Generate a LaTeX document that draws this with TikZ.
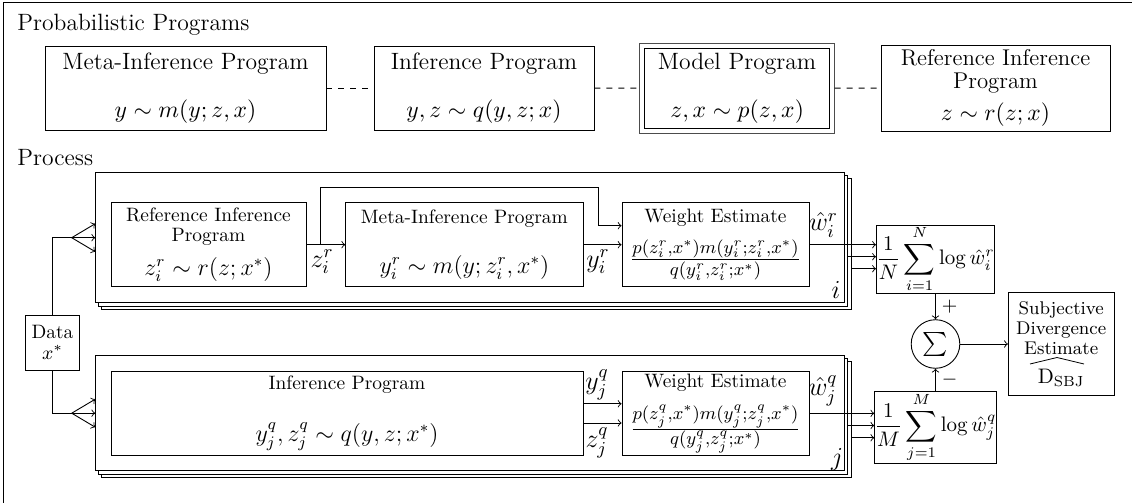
\RequirePackage{fix-cm}
\documentclass[tikz,border=0pt,11pt]{standalone}
\usepackage{amsmath}
\usetikzlibrary{calc,backgrounds}
\newcommand{\mfs}[1]{\fontsize{#1}{#1}\selectfont}
\begin{document}
\begin{tikzpicture}[x=0.5pt,y=-0.5pt,line width=0.45pt,
  every node/.style={inner sep=0pt},
  topbox/.style={draw,align=center,font=\fontsize{11.8}{11.5}\selectfont},
  pbox/.style={draw,fill=white,align=center,font=\fontsize{9.7}{10}\selectfont},
  mlabel/.style={font=\fontsize{13}{13}\selectfont},
  sectitle/.style={anchor=base west,font=\fontsize{11.8}{13}\selectfont},
  link/.style={dashed},
  conn/.style={->},
  stackshadow/.style={draw,fill=white}]
\useasboundingbox (0,0) rectangle (1132,503);
\draw (3.3,503) -- (3.3,2) -- (1132,2);

\node[sectitle] (ptitle) at (17,31) {Probabilistic Programs};
\node[sectitle] (proctitle) at (17,165) {Process};

% top row
\node[topbox,minimum width=140.5pt,minimum height=42pt] (tmeta) at (185.5,88)
  {Meta-Inference Program\\[12.5pt]$y\sim m(y;z,x)$};
\node[topbox,minimum width=110pt,minimum height=42pt] (tinf) at (484,88)
  {Inference Program\\[12.5pt]$y,z\sim q(y,z;x)$};
\node[topbox,minimum width=92.8pt,minimum height=39.85pt] (tmodel) at (737.1,88.15)
  {Model Program\\[12.5pt]$z,x\sim p(z,x)$};
\draw[black!70] ($(tmodel.north west)+(-4.3,-4.5)$) rectangle ($(tmodel.south east)+(4.3,4.5)$);
\node[topbox,minimum width=114.5pt,minimum height=43pt,font=\fontsize{11.4}{11.5}\selectfont] (tref) at (995.5,88)
  {Reference Inference\\Program\\[4.5pt]{\mfs{11.8}$z\sim r(z;x)$}};
\draw[link] (tmeta) -- (tinf);
\draw[link] (tinf) -- ($(tmodel.west)+(-4.3,0)$);
\draw[link] ($(tmodel.east)+(4.3,0)$) -- (tref);

% process stacks
\node[pbox,minimum width=374.15pt,minimum height=65pt] (upfront) at (469.85,237.7) {};
\node[pbox,minimum width=374.15pt,minimum height=57.5pt] (lofront) at (469.85,413.2) {};
\begin{scope}[on background layer]
\foreach \n in {upfront,lofront}{
  \draw[stackshadow] ($(\n.north west)+(6.6,6.6)$) rectangle ($(\n.south east)+(6.6,6.6)$);
  \draw[stackshadow] ($(\n.north west)+(3.3,3.3)$) rectangle ($(\n.south east)+(3.3,3.3)$);
}
\end{scope}

% upper loop
\node[pbox,minimum width=97.5pt,minimum height=42pt] (refi) at (208.5,244.7)
  {Reference Inference\\Program\\[5pt]{\mfs{12}$z_i^r\sim r(z;x^*)$}};
\node[pbox,minimum width=118.65pt,minimum height=42pt] (pmeta) at (464.35,244.7)
  {Meta-Inference Program\\[13pt]{\mfs{12}$y_i^r\sim m(y;z_i^r,x^*)$}};
\node[pbox,minimum width=93.5pt,minimum height=42pt] (wr) at (715.5,244.7)
  {Weight Estimate\\[6pt]{\mfs{13}$\frac{p(z_i^r,x^*)m(y_i^r;z_i^r,x^*)}{q(y_i^r,z_i^r;x^*)}$}};
\node[mlabel] (lzr) at (322,262) {$z_i^r$};
\node[mlabel] (lyr) at (598,262) {$y_i^r$};
\node[mlabel] (lwr) at (823.5,225) {$\hat{w}_i^r$};
\node[mlabel] (li) at (836,290) {$i$};

\draw[conn] (refi) -- (pmeta);
\draw[conn] (pmeta) -- (wr);
\coordinate (zb) at ($(refi.east)!0.35!(pmeta.west)$);
\coordinate (zt) at ($(zb)+(0,-57.4)$);
\coordinate (wd) at ($(wr.west)+(-23,-19)$);
\draw[conn] (zb) -- (zt) -| (wd) -- (wd -| wr.west);

% lower loop
\node[pbox,minimum width=236pt,minimum height=42.35pt] (linf) at (347,413.35)
  {Inference Program\\[13.5pt]{\mfs{12}$y_j^q,z_j^q\sim q(y,z;x^*)$}};
\node[pbox,minimum width=93.5pt,minimum height=42.35pt] (wq) at (715.5,413.35)
  {Weight Estimate\\[6pt]{\mfs{13}$\frac{p(z_j^q,x^*)m(y_j^q;z_j^q,x^*)}{q(y_j^q,z_j^q;x^*)}$}};
\node[mlabel] (lyq) at (597,385) {$y_j^q$};
\node[mlabel] (lzq) at (597,443) {$z_j^q$};
\node[mlabel] (lwq) at (823,391) {$\hat{w}_j^q$};
\node[mlabel] (lj) at (837,460) {$j$};
\draw[conn] ($(linf.east)+(0,-9.6)$) -- ($(wq.west)+(0,-9.6)$);
\draw[conn] ($(linf.east)+(0,9.6)$) -- ($(wq.west)+(0,9.6)$);

% data
\node[pbox,minimum width=26.8pt,minimum height=27.15pt] (data) at (52.5,342.8) {Data\\[0.5pt]$x^*$};
\coordinate (fanU) at (71.7,237.7);
\coordinate (fanL) at (71.7,413.2);
\draw (data.north) |- (fanU);
\draw (data.south) |- (fanL);
\foreach \d in {-14,0,14}{
  \draw[conn] (fanU) -- ($(upfront.west)+(0,\d)$);
  \draw[conn] (fanL) -- ($(lofront.west)+(0,\d)$);
}

% sums
\node[pbox,minimum width=59pt,minimum height=34.15pt,font=\fontsize{10.5}{12}\selectfont] (sumN) at (935.5,259.15)
  {$\displaystyle\frac{1}{N}\sum_{i=1}^{N}\log\hat{w}_i^r$};
\node[pbox,minimum width=59pt,minimum height=35.8pt,font=\fontsize{10.5}{12}\selectfont] (sumM) at (935.5,427.5)
  {$\displaystyle\frac{1}{M}\sum_{j=1}^{M}\log\hat{w}_j^q$};
\node[draw,circle,minimum size=24.3pt] (sig) at (935.5,344) {\mfs{11.5}$\sum$};
\node[pbox,minimum width=52.85pt,minimum height=51.15pt,font=\fontsize{9.2}{10}\selectfont] (subj) at (1061.2,344)
  {Subjective\\Divergence\\Estimate\\[4.5pt]{\mfs{10.5}$\mathrm{D}_{\mathrm{SBJ}}$}};
\coordinate (hatL) at (1030,364);
\coordinate (hatT) at (1057,357.5);
\coordinate (hatR) at (1084,364);
\draw[line width=0.4pt] (hatL) -- (hatT) -- (hatR);

\coordinate (ua2) at ($(wr.east -| upfront.east)+(3.3,12)$);
\coordinate (ua3) at ($(wr.east -| upfront.east)+(6.6,24)$);
\draw[conn] (wr.east) -- (wr.east -| sumN.west);
\draw[conn] (ua2) -- (ua2 -| sumN.west);
\draw[conn] (ua3) -- (ua3 -| sumN.west);
\coordinate (la2) at ($(wq.east -| lofront.east)+(3.3,12.2)$);
\coordinate (la3) at ($(wq.east -| lofront.east)+(6.6,24.4)$);
\draw[conn] (wq.east) -- (wq.east -| sumM.west);
\draw[conn] (la2) -- (la2 -| sumM.west);
\draw[conn] (la3) -- (la3 -| sumM.west);

\draw[conn] (sumN) -- (sig) node[midway,right=3pt,font=\fontsize{9.7}{10}\selectfont] (lplus) {$+$};
\draw[conn] (sumM) -- (sig) node[midway,right=3pt,font=\fontsize{9.7}{10}\selectfont] (lminus) {$-$};
\draw[conn] (sig) -- (subj);
\end{tikzpicture}
\end{document}
